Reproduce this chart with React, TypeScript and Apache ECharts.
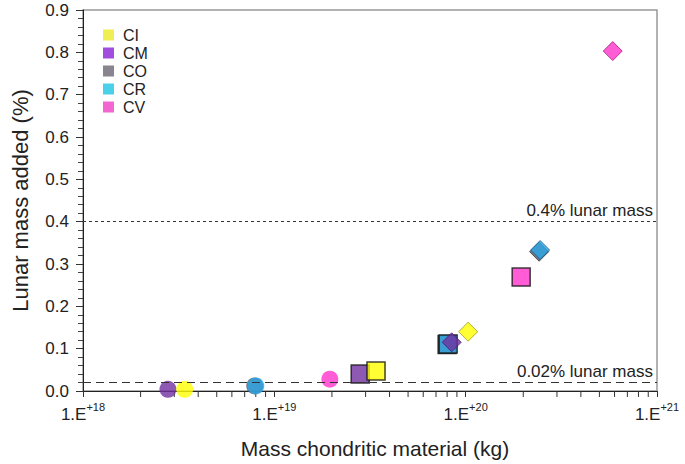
import React, { useEffect, useRef } from "react";
import * as echarts from "echarts";

const groups = ["CI", "CM", "CO", "CR", "CV"];
const legendColors = ["#ecea2a", "#8a22d6", "#6b6570", "#1ec4e4", "#f040c4"];
const markerColors = ["#ffff00", "#7030a0", "#5a5560", "#2aa8e8", "#ff33cc"];
const diamondBorders = ["#9a9a20", "#4a1a70", "#333333", "#1a5a90", "#a02080"];

// [mass kg, lunar mass added %] for circle, square, diamond per group
const ciPoints = [[3.4e18, 0.004], [3.4e19, 0.047], [1.03e20, 0.14]];
const cmPoints = [[2.78e18, 0.004], [2.81e19, 0.04], [8.45e19, 0.115]];
const coPoints = [[7.9e18, 0.012], [8.0e19, 0.11], [2.42e20, 0.329]];
const crPoints = [[8.0e18, 0.012], [8.1e19, 0.111], [2.45e20, 0.333]];
const cvPoints = [[1.95e19, 0.028], [1.95e20, 0.269], [5.87e20, 0.803]];

const decades = [1e18, 1e19, 1e20];
const minorMultipliers = [2, 3, 4, 5, 6, 7, 8, 9];
const refLines = [
  { y: 0.4, label: "0.4% lunar mass", dash: [3, 3] },
  { y: 0.02, label: "0.02% lunar mass", dash: [8, 5] },
];

const FONT = "Liberation Sans, Arial, Helvetica, sans-serif";

export default function App() {
  const ref = useRef<HTMLDivElement>(null);
  useEffect(() => {
    if (!ref.current) return;
    const chart = echarts.init(ref.current, null, { renderer: "svg" });
    const pointsByGroup: Record<string, number[][]> = {
      CI: ciPoints,
      CM: cmPoints,
      CO: coPoints,
      CR: crPoints,
      CV: cvPoints,
    };
    const drawOrder = ["CO", "CR", "CM", "CI", "CV"];
    const scatterSeries = drawOrder.map((g) => {
      const gi = groups.indexOf(g);
      const pts = pointsByGroup[g];
      return {
        name: g,
        type: "scatter",
        clip: false,
        z: 3,
        itemStyle: { color: markerColors[gi] },
        data: [
          {
            value: pts[0],
            symbol: "circle",
            symbolSize: 17,
            itemStyle: { color: markerColors[gi], borderWidth: 0 },
          },
          {
            value: pts[1],
            symbol: "rect",
            symbolSize: 18,
            itemStyle: { color: markerColors[gi], borderColor: "#111", borderWidth: 1.5 },
          },
          {
            value: pts[2],
            symbol: "diamond",
            symbolSize: [19, 19],
            itemStyle: { color: markerColors[gi], borderColor: diamondBorders[gi], borderWidth: 1 },
          },
        ],
      };
    });

    const minorTicks: number[][] = [];
    decades.forEach((d) => minorMultipliers.forEach((m) => minorTicks.push([d * m, 0])));

    chart.setOption({
      animation: false,
      textStyle: { fontFamily: FONT },
      grid: {
        left: 83,
        right: 28,
        top: 10,
        bottom: 73,
        show: true,
        borderColor: "#999",
        borderWidth: 1.5,
        backgroundColor: "transparent",
      },
      legend: {
        orient: "vertical",
        left: 98,
        top: 22,
        itemWidth: 11,
        itemHeight: 11,
        itemGap: 2,
        icon: "rect",
        textStyle: { fontSize: 16, color: "#222", fontFamily: FONT, padding: [0, 0, 0, 4] },
        data: groups.map((g, i) => ({
          name: g,
          itemStyle: { color: legendColors[i], borderWidth: 0 },
        })),
      },
      xAxis: {
        type: "log",
        logBase: 10,
        min: 1e18,
        max: 1e21,
        name: "Mass chondritic material (kg)",
        nameLocation: "middle",
        nameGap: 47,
        nameTextStyle: { fontSize: 21, color: "#222", fontFamily: FONT, padding: [0, 0, 0, 10] },
        axisLine: { lineStyle: { color: "#222", width: 1 } },
        axisTick: { show: true, length: 6, lineStyle: { color: "#333" } },
        splitLine: { show: false },
        axisLabel: {
          margin: 10,
          color: "#222",
          formatter: (v: number) => `{a|1.E}{b|+${Math.round(Math.log10(v))}}`,
          rich: {
            a: { fontSize: 17, color: "#222", fontFamily: FONT, lineHeight: 22, verticalAlign: "bottom" },
            b: { fontSize: 11, color: "#222", fontFamily: FONT, lineHeight: 22, verticalAlign: "top" },
          },
        },
      },
      yAxis: {
        type: "value",
        min: 0,
        max: 0.9,
        interval: 0.1,
        name: "Lunar mass added (%)",
        nameLocation: "middle",
        nameGap: 52,
        nameTextStyle: { fontSize: 22, color: "#222", fontFamily: FONT },
        axisLine: { show: true, lineStyle: { color: "#222", width: 1 } },
        axisTick: { show: true, length: 7, lineStyle: { color: "#333" } },
        minorTick: { show: true, splitNumber: 5, length: 5, lineStyle: { color: "#444" } },
        splitLine: { show: false },
        axisLabel: {
          margin: 14,
          fontSize: 17,
          color: "#222",
          formatter: (v: number) => v.toFixed(1),
        },
      },
      series: [
        {
          type: "custom",
          silent: true,
          clip: false,
          z: 1,
          data: minorTicks,
          encode: { x: 0, y: 1 },
          renderItem: (params: any, api: any) => {
            const p = api.coord([api.value(0), 0]);
            return {
              type: "line",
              shape: { x1: p[0], y1: p[1], x2: p[0], y2: p[1] + 6 },
              style: { stroke: "#333", lineWidth: 1 },
            };
          },
        },
        ...scatterSeries,
        {
          type: "scatter",
          data: [],
          z: 10,
          silent: true,
          markLine: {
            silent: true,
            symbol: "none",
            z: 10,
            data: refLines.map((r) => ({
              yAxis: r.y,
              lineStyle: { type: r.dash, color: "#333", width: 1 },
              label: {
                show: true,
                position: "insideEndTop",
                formatter: r.label,
                fontSize: 17,
                color: "#222",
                fontFamily: FONT,
                distance: [4, 3],
              },
            })),
          },
        },
      ],
    });
    return () => chart.dispose();
  }, []);
  return (
    <div
      ref={ref}
      style={{ position: "absolute", left: 0, top: 0, width: 685, height: 464 }}
    />
  );
}
